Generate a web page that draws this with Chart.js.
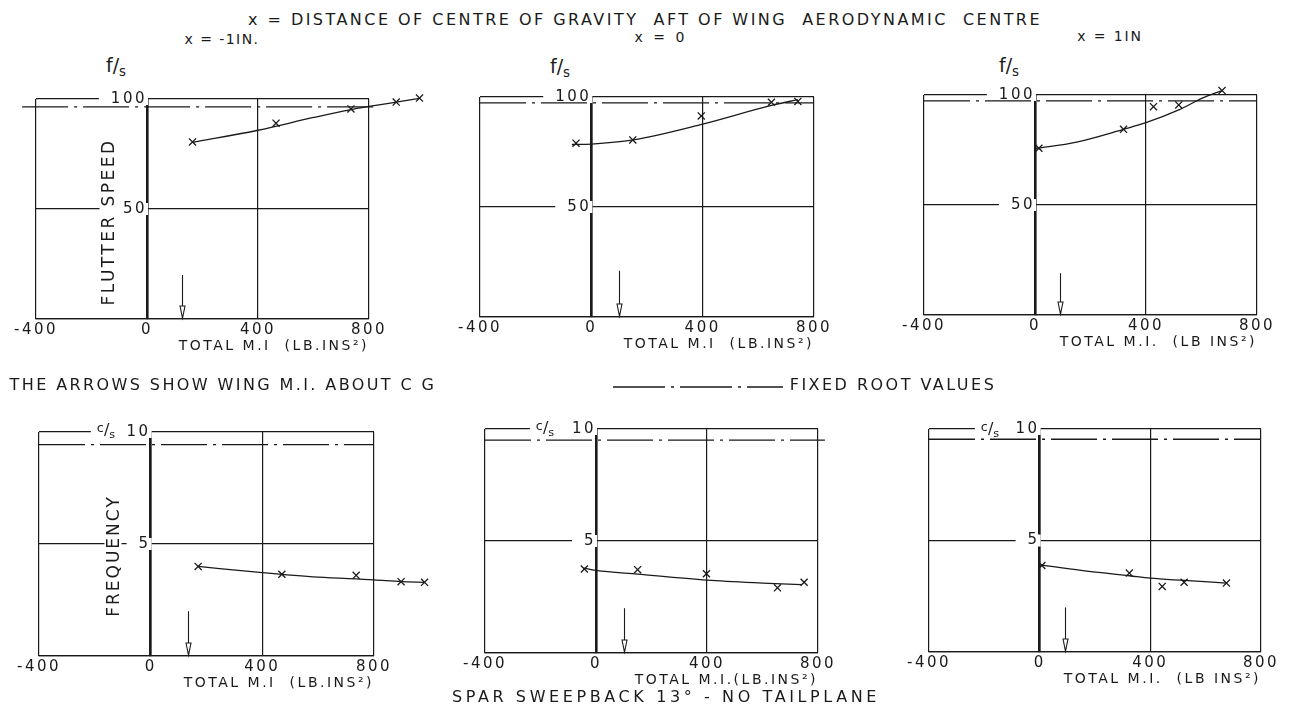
<!DOCTYPE html>
<html lang="en">
<head>
<meta charset="UTF-8">
<title>Flutter speed and frequency against total M.I.</title>
<script src="https://cdn.jsdelivr.net/npm/chart.js@4.4.1/dist/chart.umd.min.js"></script>
<style>
  html, body { margin: 0; padding: 0; background: #fff; }
  body { position: relative; width: 1301px; height: 710px; overflow: hidden;
         font-family: "DejaVu Sans", sans-serif; color: #1a1a1a; }
  canvas { position: absolute; }
  .txt { position: absolute; white-space: nowrap; line-height: 1; transform: translate(-50%, -50%); }
  .sub { font-size: 0.7em; position: relative; top: 0.3em; }
  .sup { font-size: 0.8em; position: relative; top: -0.25em; }
</style>
</head>
<body>
<script>
// values
const xTicks = [-400, 0, 400, 800];
const speedTicks = [0, 50, 100];
const freqTicks = [0, 5, 10];

// flutter speed f/s : x = -1 in, x = 0, x = 1 in
const speedCurveX1 = [164, 400, 600, 735, 800, 898, 982];
const speedCurveY1 = [80.3, 85.8, 91.6, 95.2, 96.6, 98.6, 100.3];
const speedPtsX1 = [164, 465, 735, 898, 982];
const speedPtsY1 = [80.5, 89, 95.5, 98.6, 100.4];

const speedCurveX2 = [-70, 0, 150, 400, 647, 742];
const speedCurveY2 = [78.4, 78.6, 80.5, 87.7, 96.2, 98.8];
const speedPtsX2 = [-55, 149, 395, 647, 742];
const speedPtsY2 = [79, 80.5, 91.4, 97.6, 98];

const speedCurveX3 = [0, 150, 319, 400, 518, 605, 674];
const speedCurveY3 = [75.6, 78.6, 84.4, 87.4, 93.2, 98.7, 102];
const speedPtsX3 = [14, 319, 427, 518, 674];
const speedPtsY3 = [75.8, 84.4, 94.7, 95.5, 102];

// frequency c/s
const freqCurveX1 = [170, 400, 600, 800, 897, 981];
const freqCurveY1 = [4.0, 3.72, 3.52, 3.4, 3.32, 3.29];
const freqPtsX1 = [170, 470, 736, 897, 981];
const freqPtsY1 = [4.0, 3.65, 3.6, 3.32, 3.29];

const freqCurveX2 = [-45, 0, 150, 400, 600, 740];
const freqCurveY2 = [3.79, 3.69, 3.52, 3.25, 3.12, 3.05];
const freqPtsX2 = [-42, 150, 398, 654, 750];
const freqPtsY2 = [3.75, 3.72, 3.54, 2.91, 3.16];

const freqCurveX3 = [0, 150, 324, 400, 522, 675];
const freqCurveY3 = [3.91, 3.66, 3.42, 3.31, 3.21, 3.09];
const freqPtsX3 = [8, 324, 443, 522, 675];
const freqPtsY3 = [3.88, 3.54, 2.94, 3.13, 3.09];

// wing M.I. about C.G. (arrows) and fixed root values
const arrowX = [126, 101, 89, 132, 102, 93];
const arrowTop = [20, 21, 19, 2.0, 2.0, 2.0];
const rootValue = [96.4, 97.3, 97.3, 9.44, 9.5, 9.54];
const rootFrom = [-450, -400, -400, -400, -400, -400];
const rootTo = [820, 800, 800, 800, 825, 800];

const xTitles = ['TOTAL M.I  (LB.INS²)', 'TOTAL M.I  (LB.INS²)', 'TOTAL M.I.  (LB INS²)',
                 'TOTAL M.I  (LB.INS²)', 'TOTAL M.I.(LB.INS²)', 'TOTAL M.I.  (LB INS²)'];

// plot areas on the page
const boxes = [
  { left: 36, top: 99, right: 369, bottom: 319 },
  { left: 480, top: 97, right: 814, bottom: 317 },
  { left: 924, top: 95, right: 1257, bottom: 315 },
  { left: 39, top: 432, right: 374, bottom: 656 },
  { left: 485, top: 429, right: 818, bottom: 653 },
  { left: 929, top: 429, right: 1261, bottom: 652 }
];

const ink = '#1a1a1a';
const family = '"DejaVu Sans", sans-serif';

const zip = (xs, ys) => xs.map((x, i) => ({ x: x, y: ys[i] }));

const spacing = {
  id: 'spacing',
  beforeUpdate(chart) { chart.ctx.letterSpacing = '2.5px'; },
  beforeDraw(chart) { chart.ctx.letterSpacing = '2.5px'; }
};

// let markers past the 800 line be drawn too (points outside chartArea are skipped)
const overflow = {
  id: 'overflow',
  beforeDatasetsDraw(chart) {
    chart._realArea = chart.chartArea;
    chart.chartArea = { left: 0, top: 0, right: chart.width, bottom: chart.height,
                        width: chart.width, height: chart.height };
  },
  afterDatasetsDraw(chart) { chart.chartArea = chart._realArea; }
};

const arrow = {
  id: 'arrow',
  afterDatasetsDraw(chart, args, opts) {
    const { ctx, scales: { x, y } } = chart;
    const px = Math.round(x.getPixelForValue(opts.x)) + 0.5;
    const top = y.getPixelForValue(opts.top);
    const bot = y.getPixelForValue(0);
    ctx.save();
    ctx.strokeStyle = ink;
    ctx.lineWidth = 1.1;
    ctx.beginPath();
    ctx.moveTo(px, top);
    ctx.lineTo(px, bot - 1);
    ctx.stroke();
    ctx.beginPath();
    ctx.moveTo(px - 2.5, bot - 13);
    ctx.lineTo(px, bot - 1);
    ctx.lineTo(px + 2.5, bot - 13);
    ctx.closePath();
    ctx.fillStyle = '#fff';
    ctx.fill();
    ctx.stroke();
    ctx.restore();
  }
};

function makePanel(i, curve, pts, yMax, yTicks) {
  const box = boxes[i];
  const padL = 30, padR = 60, padT = 14, padB = 2, axisH = 40;
  const w = box.right - box.left + padL + padR;
  const h = box.bottom - box.top + padT + axisH + padB;
  const canvas = document.createElement('canvas');
  canvas.width = w;
  canvas.height = h;
  canvas.style.left = (box.left - padL) + 'px';
  canvas.style.top = (box.top - padT) + 'px';
  document.body.appendChild(canvas);

  new Chart(canvas, {
    type: 'scatter',
    data: {
      datasets: [
        { data: curve, showLine: true, borderColor: ink, borderWidth: 1.3, pointRadius: 0,
          cubicInterpolationMode: 'monotone', clip: false },
        { data: pts, pointStyle: 'crossRot', pointRadius: 5, borderColor: ink, borderWidth: 1.3,
          backgroundColor: ink, clip: false },
        { data: [{ x: rootFrom[i], y: rootValue[i] }, { x: rootTo[i], y: rootValue[i] }],
          showLine: true, borderColor: ink, borderWidth: 1.3, borderDash: [46, 6, 3, 6],
          pointRadius: 0, clip: false }
      ]
    },
    options: {
      responsive: false,
      animation: false,
      events: [],
      layout: { padding: { left: padL, right: padR, top: padT, bottom: padB } },
      plugins: {
        legend: { display: false },
        tooltip: { enabled: false },
        arrow: { x: arrowX[i], top: arrowTop[i] }
      },
      scales: {
        x: {
          type: 'linear', position: 'bottom', bounds: 'data',
          // range fixed here (not as min/max) so marks past 800 are still drawn
          afterDataLimits: s => { s.min = xTicks[0]; s.max = xTicks[xTicks.length - 1]; },
          afterBuildTicks: s => { s.ticks = xTicks.map(v => ({ value: v })); },
          afterFit: s => { s.height = axisH; },
          grid: { color: ink, lineWidth: 1.2, drawTicks: false },
          border: { color: ink, width: 1.2 },
          ticks: { color: ink, padding: 2, maxRotation: 0, autoSkip: false,
                   font: { family: family, size: 15 } },
          title: { display: true, text: xTitles[i], align: 'end', color: ink,
                   font: { family: family, size: 14 }, padding: { top: 0, bottom: 4 } }
        },
        y: {
          type: 'linear', min: 0, max: yMax, position: { x: 0 },
          afterBuildTicks: s => { s.ticks = yTicks.map(v => ({ value: v })); },
          grid: { color: ink, lineWidth: 1.2, drawTicks: false },
          border: { color: ink, width: 2.6 },
          ticks: {
            color: ink, padding: 3, font: { family: family, size: 15 },
            callback: v => v === 0 ? '' : String(v),
            showLabelBackdrop: c => !!c.tick && c.tick.value !== 0,
            backdropColor: '#fff',
            backdropPadding: { left: 12, right: 1, top: -3, bottom: -3 }
          }
        }
      }
    },
    plugins: [spacing, overflow, arrow]
  });
}

makePanel(0, zip(speedCurveX1, speedCurveY1), zip(speedPtsX1, speedPtsY1), 100, speedTicks);
makePanel(1, zip(speedCurveX2, speedCurveY2), zip(speedPtsX2, speedPtsY2), 100, speedTicks);
makePanel(2, zip(speedCurveX3, speedCurveY3), zip(speedPtsX3, speedPtsY3), 100, speedTicks);
makePanel(3, zip(freqCurveX1, freqCurveY1), zip(freqPtsX1, freqPtsY1), 10, freqTicks);
makePanel(4, zip(freqCurveX2, freqCurveY2), zip(freqPtsX2, freqPtsY2), 10, freqTicks);
makePanel(5, zip(freqCurveX3, freqCurveY3), zip(freqPtsX3, freqPtsY3), 10, freqTicks);

// page lettering
function addText(html, cx, cy, size, width, rotate, pad) {
  const d = document.createElement('div');
  d.className = 'txt';
  d.innerHTML = html;
  d.style.fontSize = size + 'px';
  document.body.appendChild(d);
  if (width) {
    const n = d.textContent.length;
    d.style.letterSpacing = ((width - d.offsetWidth) / n) + 'px';
  }
  if (pad) { d.style.background = '#fff'; d.style.padding = '0 ' + pad + 'px'; }
  d.style.left = cx + 'px';
  d.style.top = cy + 'px';
  if (rotate) d.style.transform = 'translate(-50%, -50%) rotate(-90deg)';
  return d;
}

addText('x = DISTANCE OF CENTRE OF GRAVITY&nbsp; AFT OF WING&nbsp; AERODYNAMIC&nbsp; CENTRE', 645, 20, 16, 794);
addText('x = -1IN.', 222, 39, 14, 75);
addText('x = 0', 661, 37, 14, 53);
addText('x = 1IN', 1110, 36, 14, 65);

const fs = 'f/<span class="sub">s</span>';
addText(fs, 116, 65, 19);
addText(fs, 560, 66, 19);
addText(fs, 1009, 65, 19);

const cs = '<span class="sup">c</span>/<span class="sub">s</span>';
addText(cs, 106, 430, 16, 0, false, 6);
addText(cs, 545, 428, 16, 0, false, 6);
addText(cs, 990, 429, 16, 0, false, 6);

addText('FLUTTER SPEED', 108, 222, 17, 167, true, 12);
addText('FREQUENCY', 113, 556, 17, 122, true, 12);

addText('THE ARROWS SHOW WING M.I. ABOUT C G', 223, 385, 16, 427);
addText('<svg width="170" height="6" style="vertical-align:middle"><line x1="0" y1="3" x2="170" y2="3" stroke="#1a1a1a" stroke-width="1.3" stroke-dasharray="52 6 3 6"/></svg>', 698, 386, 14);
addText('FIXED ROOT VALUES', 893, 385, 16, 207);
addText('SPAR SWEEPBACK 13° - NO TAILPLANE', 666, 697, 16, 428);
</script>
</body>
</html>
